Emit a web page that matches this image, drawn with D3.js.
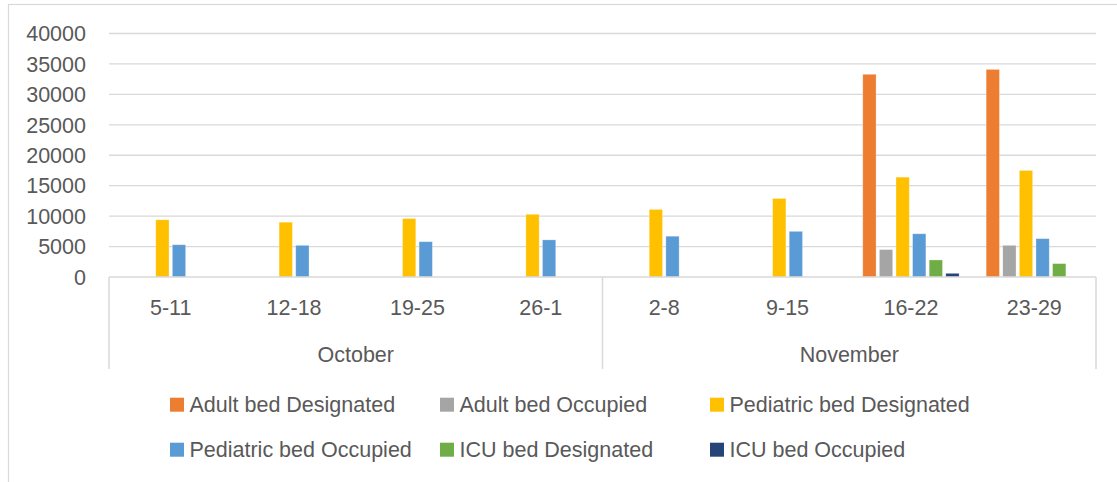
<!DOCTYPE html>
<html>
<head>
<meta charset="utf-8">
<script src="https://cdn.jsdelivr.net/npm/d3@7"></script>
<style>
  html, body { margin: 0; padding: 0; background: #fff; }
  svg { display: block; }
  text { font-family: "Liberation Sans", Arial, sans-serif; fill: #595959; }
</style>
</head>
<body>
<script>
// ---- data ----
const weeks = ["5-11", "12-18", "19-25", "26-1", "2-8", "9-15", "16-22", "23-29"];
const monthNames = ["October", "November"];
const monthSpans = [4, 4];
const seriesNames = ["Adult bed Designated", "Adult bed Occupied", "Pediatric bed Designated",
                     "Pediatric bed Occupied", "ICU bed Designated", "ICU bed Occupied"];
const adultDesignated    = [null, null, null, null, null, null, 33300, 34100];
const adultOccupied      = [null, null, null, null, null, null, 4500, 5200];
const pediatricDesignated = [9400, 9000, 9600, 10300, 11100, 12900, 16400, 17500];
const pediatricOccupied  = [5300, 5200, 5800, 6100, 6700, 7500, 7100, 6300];
const icuDesignated      = [null, null, null, null, null, null, 2800, 2200];
const icuOccupied        = [null, null, null, null, null, null, 600, null];
const yTicks = [0, 5000, 10000, 15000, 20000, 25000, 30000, 35000, 40000];
const colors = ["#ED7D31", "#A5A5A5", "#FFC000", "#5B9BD5", "#70AD47", "#264478"];

const seriesValues = [adultDesignated, adultOccupied, pediatricDesignated,
                      pediatricOccupied, icuDesignated, icuOccupied];

// ---- layout ----
const W = 1117, H = 482;
const svg = d3.select("body").append("svg").attr("width", W).attr("height", H);

svg.append("rect").attr("x", 8.5).attr("y", 4.5).attr("width", W + 10).attr("height", H + 10)
  .attr("fill", "#fff").attr("stroke", "#d9d9d9").attr("stroke-width", 1.2);

const x0 = d3.scaleBand().domain(d3.range(weeks.length)).range([109, 1096]).padding(0);
const x1 = d3.scaleBand().domain(d3.range(seriesNames.length)).range([0, x0.bandwidth()])
  .paddingInner(0.2).paddingOuter(0.815);
const y = d3.scaleLinear().domain([0, 40000]).range([277, 33.5]);

// gridlines
svg.append("g").selectAll("line").data(yTicks.filter(d => d > 0)).join("line")
  .attr("x1", 109).attr("x2", 1096)
  .attr("y1", d => y(d)).attr("y2", d => y(d))
  .attr("stroke", "#d9d9d9").attr("stroke-width", 1.3);

// y labels
svg.append("g").selectAll("text").data(yTicks).join("text")
  .attr("x", 86).attr("y", d => y(d)).attr("dy", "0.36em")
  .attr("text-anchor", "end").attr("font-size", "21.5px")
  .text(d => d);

// bars
const barData = [];
seriesValues.forEach((arr, s) => arr.forEach((v, i) => {
  if (v != null) barData.push({ s, i, v });
}));
svg.append("g").selectAll("rect").data(barData).join("rect")
  .attr("x", d => x0(d.i) + x1(d.s))
  .attr("width", x1.bandwidth())
  .attr("y", d => y(d.v))
  .attr("height", d => y(0) - y(d.v))
  .attr("fill", d => colors[d.s])
  .attr("stroke", "#fff").attr("stroke-opacity", 0.35).attr("stroke-width", 0.8);

// category axis
const axisG = svg.append("g");
axisG.append("line").attr("x1", 109).attr("x2", 1096).attr("y1", y(0)).attr("y2", y(0))
  .attr("stroke", "#d9d9d9").attr("stroke-width", 1.5);
let cum = 0;
const bounds = [0];
monthSpans.forEach(n => { cum += n; bounds.push(cum); });
bounds.forEach(b => {
  const xp = b < weeks.length ? x0(b) : x0.range()[1];
  axisG.append("line").attr("x1", xp).attr("x2", xp).attr("y1", y(0)).attr("y2", 369)
    .attr("stroke", "#d9d9d9").attr("stroke-width", 1.5);
});
axisG.selectAll("text.week").data(weeks).join("text").attr("class", "week")
  .attr("x", (d, i) => x0(i) + x0.bandwidth() / 2).attr("y", 315)
  .attr("text-anchor", "middle").attr("font-size", "21.5px").text(d => d);
axisG.selectAll("text.month").data(monthNames).join("text").attr("class", "month")
  .attr("x", (d, i) => {
    const a = x0(bounds[i]);
    const b = bounds[i + 1] < weeks.length ? x0(bounds[i + 1]) : x0.range()[1];
    return (a + b) / 2;
  })
  .attr("y", 362).attr("text-anchor", "middle").attr("font-size", "21.5px").text(d => d);

// legend
const legX = [170, 440, 710];
const legY = [411.7, 456.7];
const leg = svg.append("g").selectAll("g").data(seriesNames).join("g")
  .attr("transform", (d, i) => `translate(${legX[i % 3]},${legY[Math.floor(i / 3)]})`);
leg.append("rect").attr("x", 0).attr("y", -14).attr("width", 14).attr("height", 14)
  .attr("fill", (d, i) => colors[i]);
leg.append("text").attr("x", 19.5).attr("y", 0).attr("font-size", "21.5px").text(d => d);
</script>
</body>
</html>
